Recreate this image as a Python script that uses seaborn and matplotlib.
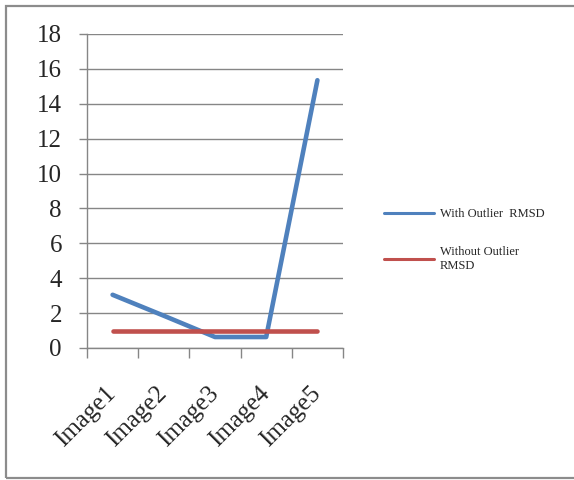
import matplotlib
matplotlib.use("Agg")
import matplotlib.pyplot as plt
import numpy as np
import pandas as pd
import seaborn as sns
from matplotlib.patches import Rectangle

images = ["Image1", "Image2", "Image3", "Image4", "Image5"]
with_outlier = [3.05, 1.85, 0.63, 0.63, 15.35]
without_outlier = [1.0, 1.0, 1.0, 1.0, 1.0]
series_names = ["With Outlier  RMSD", "Without Outlier\nRMSD"]
y_ticks = [0, 2, 4, 6, 8, 10, 12, 14, 16, 18]

df = pd.DataFrame(
    {
        "image": images * 2,
        "rmsd": with_outlier + without_outlier,
        "series": [series_names[0]] * len(images) + [series_names[1]] * len(images),
    }
)

sns.set_style("white")
plt.rcParams["font.family"] = ["Liberation Serif", "DejaVu Serif"]

axis_grey = "#868686"
W, H = 574, 480
fig = plt.figure(figsize=(W / 100, H / 100), dpi=100)
ax = fig.add_axes([87 / W, 1 - 348 / H, (343 - 87) / W, (348 - 34) / H])

sns.lineplot(
    data=df,
    x="image",
    y="rmsd",
    hue="series",
    palette=["#4F81BD", "#C0504D"],
    linewidth=3.3,
    sort=False,
    legend=False,
    ax=ax,
)
for line in ax.lines:
    line.set_solid_capstyle("round")
    line.set_solid_joinstyle("round")

ax.set_xlim(-0.5, len(images) - 0.5)
ax.set_ylim(0, 18)
ax.set_yticks(y_ticks)
ax.set_xlabel("")
ax.set_ylabel("")

ax.yaxis.grid(True, color=axis_grey, linewidth=1.0)
ax.set_axisbelow(True)
for side in ["top", "right"]:
    ax.spines[side].set_visible(False)
for side in ["left", "bottom"]:
    ax.spines[side].set_color(axis_grey)
    ax.spines[side].set_linewidth(1.0)

ax.tick_params(axis="y", direction="out", length=6, width=1, color=axis_grey,
               labelsize=18, pad=12, left=True)
ax.set_xticks(np.arange(-0.5, len(images)), minor=True)
ax.tick_params(axis="x", which="minor", direction="out", length=7, width=1,
               color=axis_grey, bottom=True)
ax.tick_params(axis="x", which="major", length=0, labelsize=18, pad=30)
for lbl in ax.get_xticklabels():
    lbl.set_rotation(45)
    lbl.set_ha("right")
    lbl.set_va("center")
    lbl.set_rotation_mode("anchor")

handles = ax.lines[:2]
ax.legend(
    handles,
    series_names,
    loc="upper left",
    bbox_to_anchor=(384 / W, 1 - 208 / H),
    bbox_transform=fig.transFigure,
    frameon=False,
    fontsize=9,
    handlelength=4.0,
    handletextpad=0.45,
    labelspacing=2.1,
    borderpad=0,
    borderaxespad=0,
)
for lh in ax.get_legend().get_lines():
    lh.set_linewidth(2.2)

fig.patches.append(
    Rectangle((6 / W, 2 / H), (590 - 6) / W, (478 - 6) / H, transform=fig.transFigure,
              fill=False, edgecolor="#8c8c8c", linewidth=1.6, clip_on=False)
)

fig.savefig("out.png", dpi=100, facecolor="white")
